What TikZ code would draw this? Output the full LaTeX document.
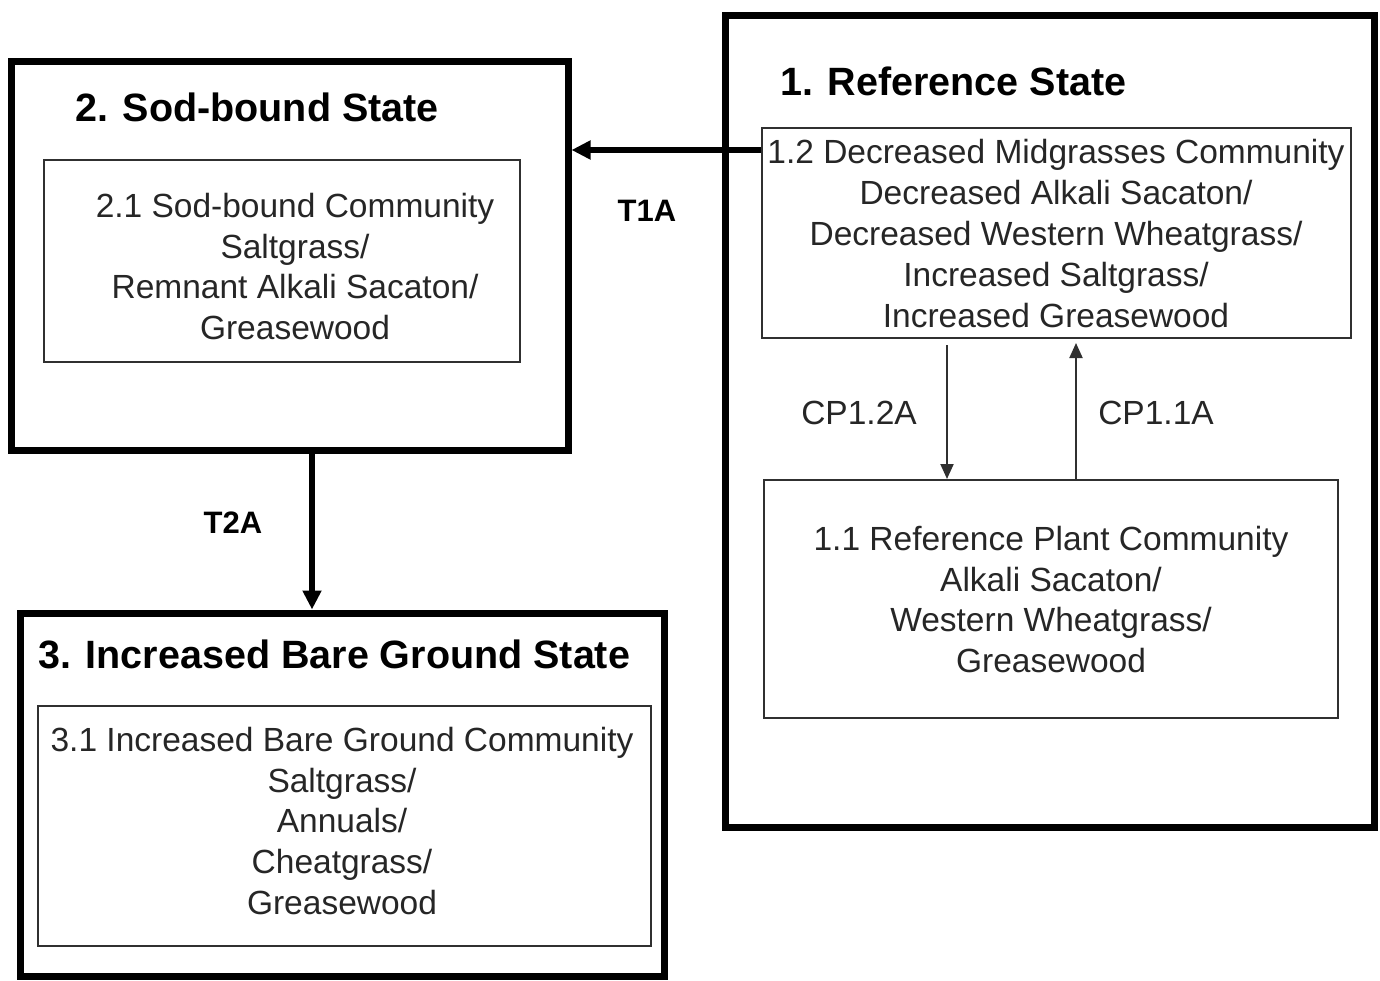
\documentclass[tikz,border=0pt]{standalone}
\usepackage{fontspec}
\setmainfont{Liberation Sans}
\usetikzlibrary{arrows.meta}
\definecolor{txt}{HTML}{262626}
\definecolor{thinline}{HTML}{303030}
\begin{document}
\begin{tikzpicture}[x=1pt,y=-1pt,
  statebox/.style={draw=black,line width=7pt,inner sep=0pt},
  commbox/.style={draw=thinline,line width=2pt,inner sep=0pt},
  commtext/.style={align=center,inner sep=0pt,text=txt,font=\fontsize{33.5}{40.8}\selectfont},
  statetitle/.style={anchor=west,inner sep=0pt,text=black,font=\fontsize{39.5}{44}\selectfont\bfseries},
  translabel/.style={inner sep=0pt,text=black,font=\fontsize{31}{36}\selectfont\bfseries},
  cplabel/.style={inner sep=0pt,text=txt,font=\fontsize{33.5}{40}\selectfont},
  bigarrow/.style={line width=6pt,-{Triangle[length=19pt,width=18pt]}},
  smallarrow/.style={draw=thinline,line width=2pt,-{Triangle[length=15pt,width=13pt]}}]
\useasboundingbox[fill=white] (0,0) rectangle (1380,980);

% state boxes
\node[statebox,minimum width=557pt,minimum height=389pt] (s2) at (289.5,255.5) {};
\node[statebox,minimum width=649pt,minimum height=812pt] (s1) at (1049.5,421) {};
\node[statebox,minimum width=644pt,minimum height=363pt] (s3) at (342,794.5) {};

% titles
\node[statetitle] (title2) at (75,107) {2. Sod-bound State};
\node[statetitle] (title1) at (780,81) {1. Reference State};
\node[statetitle] (title3) at (38,654) {3. Increased Bare Ground State};

% community boxes
\node[commbox,minimum width=476pt,minimum height=202pt] (b21) at (282,261) {};
\node[commbox,minimum width=589pt,minimum height=210pt] (b12) at (1056.5,233) {};
\node[commbox,minimum width=574pt,minimum height=238pt] (b11) at (1051,599) {};
\node[commbox,minimum width=613pt,minimum height=240pt] (b31) at (344.5,826) {};

% community texts
\node[commtext] (t21) at (295,266.5) {2.1 Sod-bound Community\\Saltgrass/\\Remnant Alkali Sacaton/\\Greasewood};
\node[commtext] (t12) at (1056,233.5) {1.2 Decreased Midgrasses Community\\Decreased Alkali Sacaton/\\Decreased Western Wheatgrass/\\Increased Saltgrass/\\Increased Greasewood};
\node[commtext] (t11) at (1051,599.5) {1.1 Reference Plant Community\\Alkali Sacaton/\\Western Wheatgrass/\\Greasewood};
\node[commtext] (t31) at (342,821) {3.1 Increased Bare Ground Community\\Saltgrass/\\Annuals/\\Cheatgrass/\\Greasewood};

% transition labels
\node[translabel] (lT1A) at (647,211) {T1A};
\node[translabel] (lT2A) at (233,523) {T2A};
\node[cplabel] (lCP12) at (859,413) {CP1.2A};
\node[cplabel] (lCP11) at (1156,413) {CP1.1A};

% helper coordinates for connector lines
\coordinate (t1y) at (0,150);
\coordinate (t2x) at (312,0);
\coordinate (cpdx) at (947,0);
\coordinate (cpux) at (1076,0);

% connectors
\draw[bigarrow] (b12.west |- t1y) -- (s2.east |- t1y);
\draw[bigarrow] (s2.south -| t2x) -- (s3.north -| t2x);
\draw[smallarrow] ([yshift=-6pt]b12.south -| cpdx) -- (b11.north -| cpdx);
\draw[smallarrow] (b11.north -| cpux) -- ([yshift=-4pt]b12.south -| cpux);
\end{tikzpicture}
\end{document}
